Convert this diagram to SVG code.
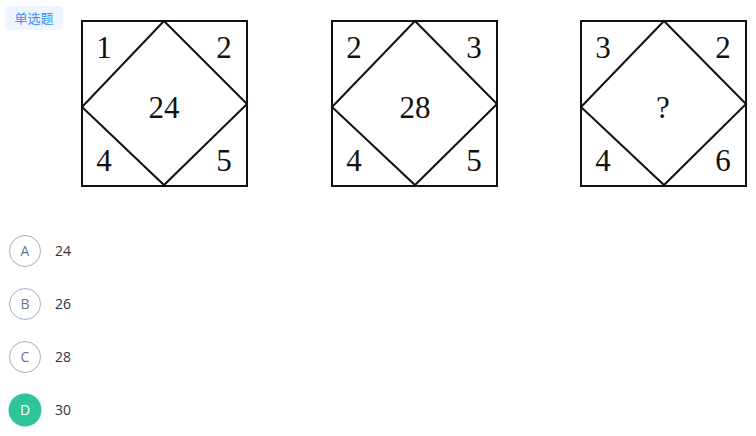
<svg xmlns="http://www.w3.org/2000/svg" width="756" height="436" viewBox="0 0 756 436">
<style>
.sq{fill:none;stroke:#111;stroke-width:2}
.dg{fill:none;stroke:#111;stroke-width:2;stroke-linejoin:miter}
.n{font-family:"Liberation Serif","Times New Roman",serif;font-size:31px;fill:#111;text-anchor:middle}
.opt{fill:#fff;stroke:#a6aec6;stroke-width:1}
.ol{font-family:"Open Sans","Liberation Sans",sans-serif;font-size:14px;fill:#6b7391;text-anchor:middle}
.ov{font-family:"Open Sans","Liberation Sans",sans-serif;font-size:14px;fill:#333}
</style>
<rect width="756" height="436" fill="#fff"/>
<g id="tag">
<rect x="5" y="6" width="58" height="24" rx="4" fill="#eef5fe"/>
<text x="34" y="23" font-family="'Noto Sans CJK SC',sans-serif" font-size="13" fill="#3d8ef0" text-anchor="middle">单选题</text>
</g>
<g id="fig1">
<rect class="sq" x="82" y="21" width="165" height="165"/>
<polygon class="dg" points="164,21 247,104 164,185 82,107"/>
<text class="n" x="104" y="58">1</text>
<text class="n" x="224" y="58">2</text>
<text class="n" x="164" y="118">24</text>
<text class="n" x="104" y="171">4</text>
<text class="n" x="224" y="171">5</text>
</g>
<g id="fig2">
<rect class="sq" x="332" y="21" width="165" height="165"/>
<polygon class="dg" points="415,21 497,104 415,185 332,107"/>
<text class="n" x="354" y="58">2</text>
<text class="n" x="474" y="58">3</text>
<text class="n" x="415" y="118">28</text>
<text class="n" x="354" y="171">4</text>
<text class="n" x="474" y="171">5</text>
</g>
<g id="fig3">
<rect class="sq" x="581" y="21" width="165" height="165"/>
<polygon class="dg" points="664,21 746,104 664,185 581,107"/>
<text class="n" x="603" y="58">3</text>
<text class="n" x="723" y="58">2</text>
<text class="n" x="663" y="118">?</text>
<text class="n" x="603" y="171">4</text>
<text class="n" x="723" y="171">6</text>
</g>
<g id="optA">
<circle class="opt" cx="25" cy="251" r="15.5"/>
<text class="ol" x="25" y="256">A</text>
<text class="ov" x="55" y="256">24</text>
</g>
<g id="optB">
<circle class="opt" cx="25" cy="304" r="15.5"/>
<text class="ol" x="25" y="309">B</text>
<text class="ov" x="55" y="309">26</text>
</g>
<g id="optC">
<circle class="opt" cx="25" cy="357" r="15.5"/>
<text class="ol" x="25" y="362">C</text>
<text class="ov" x="55" y="362">28</text>
</g>
<g id="optD">
<circle cx="25" cy="410" r="16.5" fill="#2ec49c"/>
<text class="ol" x="25" y="415" fill="#fff" style="fill:#fff">D</text>
<text class="ov" x="55" y="415">30</text>
</g>
</svg>
